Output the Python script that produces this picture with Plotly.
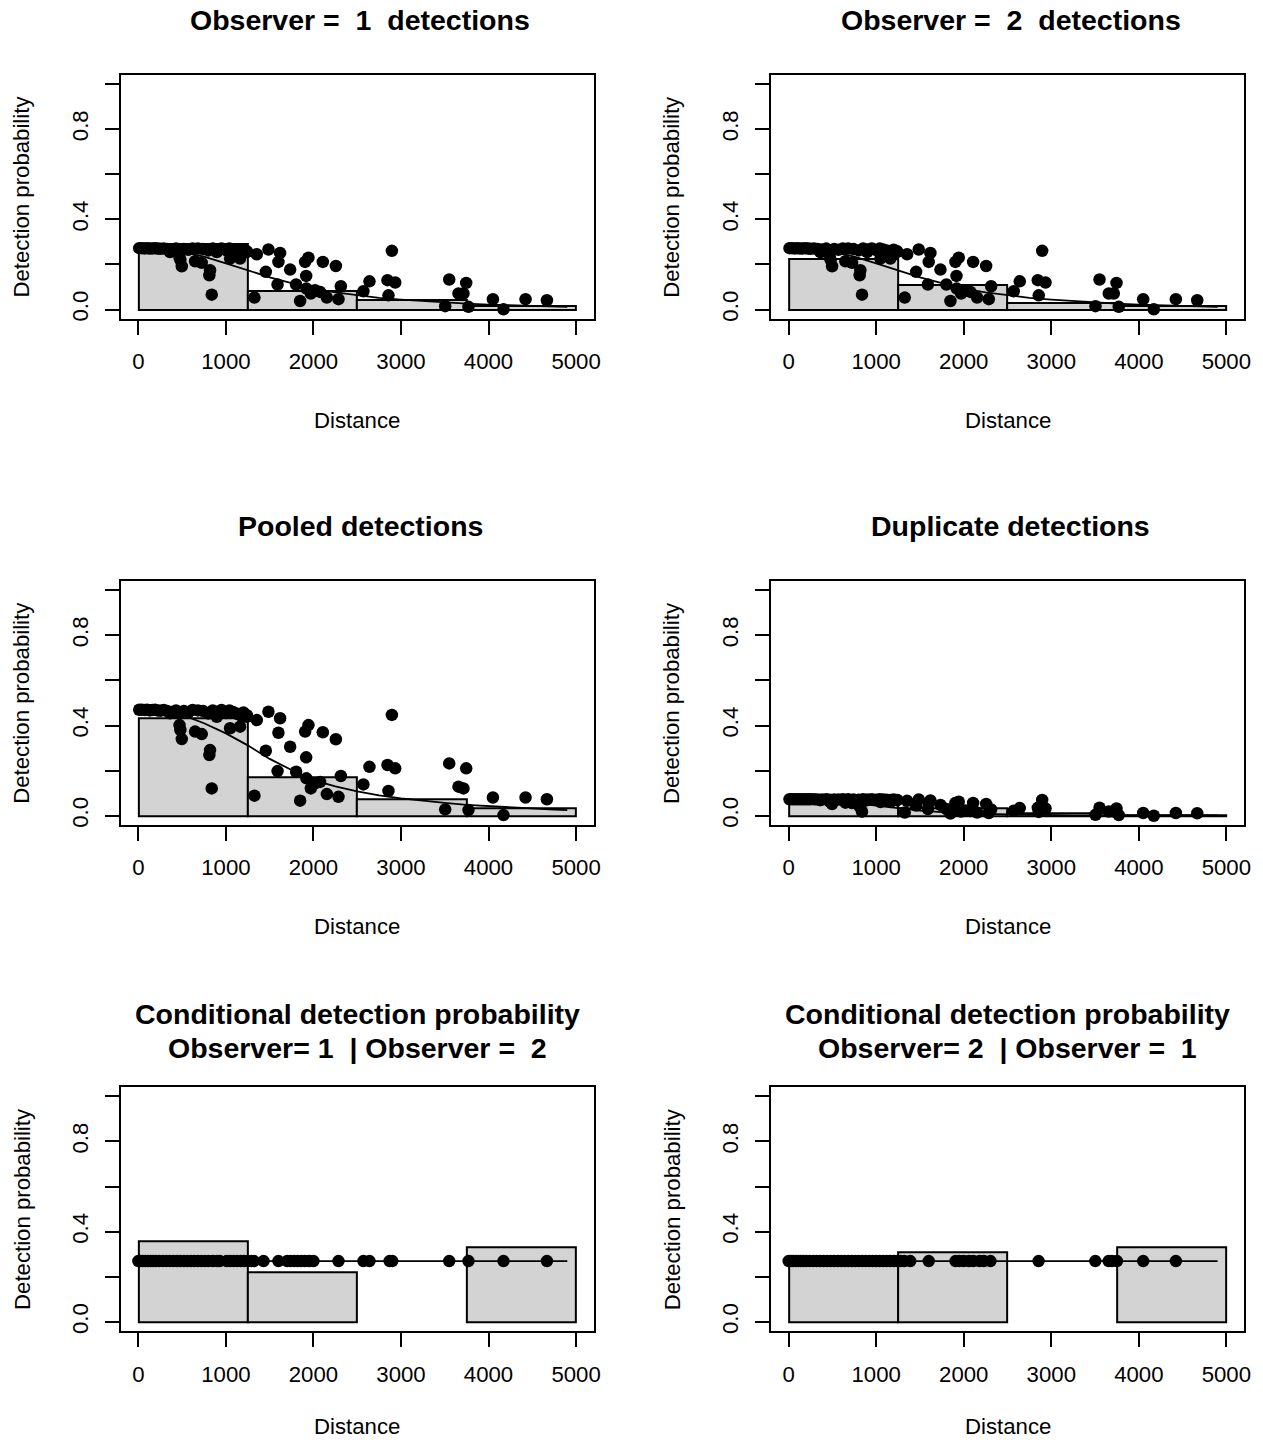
import plotly.graph_objects as go

W, H = 1263, 1445
SCALE_X, SCALE_Y = 0.994, 0.9975   # observed page-to-screenshot scale; positions pre-compensated
W_EFF, H_EFF = W * SCALE_X, H * SCALE_Y

# ---------------- data ----------------
bin_mids = [625, 1875, 3125, 4375]
bin_width = 1250

hist_obs1 = [0.293, 0.081, 0.041, 0.017]
hist_obs2 = [0.223, 0.111, 0.029, 0.018]
hist_pooled = [0.432, 0.169, 0.074, 0.033]
hist_dup = [0.055, 0.035, 0.012, 0.004]
hist_cond1 = [0.359, 0.222, None, 0.330]
hist_cond2 = [0.270, 0.308, None, 0.330]

line_dist = [0, 250, 500, 750, 1000, 1250, 1500, 1750, 2000, 2250, 2500, 2750,
             3000, 3250, 3500, 3750, 4000, 4250, 4500, 4750, 4900]
line_obs = [0.270, 0.267, 0.256, 0.234, 0.205, 0.175, 0.143, 0.117, 0.093, 0.076,
            0.063, 0.052, 0.044, 0.037, 0.031, 0.026, 0.022, 0.019, 0.016, 0.013, 0.012]
line_pooled = [0.467, 0.462, 0.447, 0.410, 0.365, 0.312, 0.252, 0.203, 0.158, 0.130,
               0.108, 0.090, 0.077, 0.066, 0.057, 0.048, 0.042, 0.036, 0.031, 0.027, 0.025]
line_dup = [0.073, 0.071, 0.066, 0.056, 0.044, 0.033, 0.023, 0.016, 0.011, 0.008,
            0.006, 0.004, 0.003, 0.002, 0.002, 0.001, 0.001, 0.001, 0.001, 0.001, 0.001]
line_cond_dist = [0, 4900]
line_cond = [0.27, 0.27]

obs_dist = [10, 40, 70, 100, 130, 160, 190, 220, 250, 290, 330, 380, 430, 470, 520,
            570, 620, 680, 740, 800, 850, 900, 950, 1000, 1040, 1080, 1120, 1160, 1200, 1240,
            362, 470, 480, 496, 648, 724, 819, 811, 838, 896, 1048, 1162, 1238, 1353, 1486,
            1619, 1600, 1456, 1326, 1590, 1734, 1802, 1848, 1905, 1943, 1917, 1920, 1970, 2019,
            2107, 2076, 2153, 2256, 2313, 2286, 2571, 2640, 2857, 2846, 2896, 2934, 3505, 3551,
            3657, 3714, 3745, 3771, 4050, 4171, 4423, 4667]
obs_p1 = [0.272, 0.272, 0.271, 0.272, 0.270, 0.271, 0.272, 0.270, 0.269, 0.271, 0.268,
          0.266, 0.270, 0.262, 0.268, 0.265, 0.271, 0.270, 0.268, 0.262, 0.270, 0.266,
          0.271, 0.263, 0.270, 0.266, 0.262, 0.258, 0.265, 0.258,
          0.255, 0.232, 0.219, 0.192, 0.214, 0.207, 0.174, 0.152, 0.066, 0.255, 0.226,
          0.226, 0.255, 0.245, 0.266, 0.251, 0.211, 0.167, 0.053, 0.111, 0.177, 0.111,
          0.038, 0.211, 0.230, 0.149, 0.093, 0.071, 0.086, 0.211, 0.078, 0.053, 0.193,
          0.103, 0.046, 0.081, 0.125, 0.063, 0.130, 0.260, 0.120, 0.015, 0.133, 0.071,
          0.071, 0.118, 0.012, 0.046, 0.001, 0.046, 0.041]
obs_pooled = [0.470, 0.470, 0.469, 0.470, 0.467, 0.469, 0.470, 0.467, 0.465, 0.469, 0.464,
              0.460, 0.467, 0.453, 0.464, 0.458, 0.469, 0.467, 0.464, 0.453, 0.467, 0.460,
              0.469, 0.455, 0.467, 0.460, 0.453, 0.446, 0.458, 0.446,
              0.454, 0.402, 0.380, 0.340, 0.373, 0.362, 0.291, 0.269, 0.121, 0.439, 0.388,
              0.395, 0.439, 0.424, 0.461, 0.432, 0.368, 0.288, 0.089, 0.198, 0.306, 0.195,
              0.067, 0.373, 0.402, 0.259, 0.166, 0.121, 0.144, 0.370, 0.150, 0.096, 0.339,
              0.176, 0.084, 0.139, 0.217, 0.110, 0.225, 0.447, 0.210, 0.028, 0.232, 0.129,
              0.121, 0.210, 0.025, 0.081, 0.003, 0.081, 0.073]
obs_dup = [0.073, 0.073, 0.073, 0.073, 0.073, 0.073, 0.073, 0.073, 0.073, 0.073, 0.072,
           0.072, 0.073, 0.071, 0.072, 0.072, 0.073, 0.073, 0.072, 0.071, 0.073, 0.072,
           0.073, 0.071, 0.073, 0.072, 0.071, 0.070, 0.072, 0.070,
           0.069, 0.063, 0.059, 0.052, 0.058, 0.056, 0.047, 0.041, 0.018, 0.069, 0.061,
           0.061, 0.069, 0.066, 0.072, 0.068, 0.057, 0.045, 0.014, 0.030, 0.048, 0.030,
           0.010, 0.057, 0.062, 0.040, 0.025, 0.019, 0.023, 0.057, 0.021, 0.014, 0.052,
           0.028, 0.012, 0.022, 0.034, 0.017, 0.035, 0.070, 0.032, 0.004, 0.036, 0.019,
           0.019, 0.032, 0.003, 0.012, 0.000, 0.012, 0.011]

cond1_dist = [0, 25, 50, 80, 110, 140, 170, 200, 240, 280, 320, 360, 400, 440, 480, 520,
              560, 600, 640, 680, 720, 760, 800, 850, 900, 930, 1010, 1050, 1090, 1130,
              1170, 1210, 1250, 1290, 1320, 1430, 1600, 1700, 1740, 1780, 1820, 1860, 1900,
              1950, 2000, 2286, 2571, 2640, 2870, 2900, 3551, 3771, 4171, 4667]
cond1_p = [0.27, 0.27, 0.27, 0.27, 0.27, 0.27, 0.27, 0.27, 0.27, 0.27, 0.27, 0.27, 0.27,
           0.27, 0.27, 0.27, 0.27, 0.27, 0.27, 0.27, 0.27, 0.27, 0.27, 0.27, 0.27, 0.27,
           0.27, 0.27, 0.27, 0.27, 0.27, 0.27, 0.27, 0.27, 0.27, 0.27, 0.27, 0.27, 0.27,
           0.27, 0.27, 0.27, 0.27, 0.27, 0.27, 0.27, 0.27, 0.27, 0.27, 0.27, 0.27, 0.27,
           0.27, 0.27]
cond2_dist = [0, 25, 50, 80, 110, 140, 170, 200, 240, 280, 320, 360, 400, 440, 480, 520,
              560, 600, 640, 680, 720, 760, 800, 840, 880, 920, 960, 1000, 1040, 1080,
              1120, 1160, 1200, 1240, 1280, 1320, 1389, 1600, 1906, 1950, 2000, 2060,
              2110, 2180, 2230, 2305, 2855, 3503, 3655, 3693, 3750, 4050, 4423]
cond2_p = [0.27, 0.27, 0.27, 0.27, 0.27, 0.27, 0.27, 0.27, 0.27, 0.27, 0.27, 0.27, 0.27,
           0.27, 0.27, 0.27, 0.27, 0.27, 0.27, 0.27, 0.27, 0.27, 0.27, 0.27, 0.27, 0.27,
           0.27, 0.27, 0.27, 0.27, 0.27, 0.27, 0.27, 0.27, 0.27, 0.27, 0.27, 0.27, 0.27,
           0.27, 0.27, 0.27, 0.27, 0.27, 0.27, 0.27, 0.27, 0.27, 0.27, 0.27, 0.27, 0.27,
           0.27]

x_ticks = [0, 1000, 2000, 3000, 4000, 5000]
y_ticks = [0.0, 0.2, 0.4, 0.6, 0.8, 1.0]
y_ticktext = ["0.0", "", "0.4", "", "0.8", ""]

NB = "\u00a0"
panels = [
    dict(col=0, row=0, title=["Observer =" + NB + " 1 " + NB + "detections"],
         hist=hist_obs1, lx=line_dist, ly=line_obs, px=obs_dist, py=obs_p1),
    dict(col=1, row=0, title=["Observer =" + NB + " 2 " + NB + "detections"],
         hist=hist_obs2, lx=line_dist, ly=line_obs, px=obs_dist, py=obs_p1),
    dict(col=0, row=1, title=["Pooled detections"],
         hist=hist_pooled, lx=line_dist, ly=line_pooled, px=obs_dist, py=obs_pooled),
    dict(col=1, row=1, title=["Duplicate detections"],
         hist=hist_dup, lx=line_dist, ly=line_dup, px=obs_dist, py=obs_dup),
    dict(col=0, row=2, title=["Conditional detection probability",
                              "Observer= 1 " + NB + "| Observer =" + NB + " 2"],
         hist=hist_cond1, lx=line_cond_dist, ly=line_cond, px=cond1_dist, py=cond1_p),
    dict(col=1, row=2, title=["Conditional detection probability",
                              "Observer= 2 " + NB + "| Observer =" + NB + " 1"],
         hist=hist_cond2, lx=line_cond_dist, ly=line_cond, px=cond2_dist, py=cond2_p),
]

FONT = "Liberation Sans, Arial, sans-serif"
fig = go.Figure()
annotations = []

SX = 0.0875
SY = 225.5


def fx(px):
    return px / W_EFF


def fy(py):
    return 1 - py / H_EFF


for i, p in enumerate(panels):
    n = "" if i == 0 else str(i + 1)
    xa, ya = "x" + n, "y" + n
    x0px = 138.3 + 650 * p["col"]
    y0px = 309.4 + 506 * p["row"]
    left, right = x0px - 200 * SX, x0px + 5200 * SX
    top, bottom = y0px - 1.04 * SY, y0px + 0.04 * SY

    fig.add_trace(go.Bar(x=bin_mids, y=p["hist"], width=bin_width, xaxis=xa, yaxis=ya,
                         marker=dict(color="#D3D3D3", line=dict(color="black", width=2)),
                         hoverinfo="skip"))
    fig.add_trace(go.Scatter(x=p["lx"], y=p["ly"], mode="lines", xaxis=xa, yaxis=ya,
                             line=dict(color="black", width=1.8)))
    fig.add_trace(go.Scatter(x=p["px"], y=p["py"], mode="markers", xaxis=xa, yaxis=ya,
                             marker=dict(color="black", size=12.5)))

    common = dict(showgrid=False, zeroline=False, showline=True, linecolor="black",
                  linewidth=2, mirror=True, ticks="outside", ticklen=14, tickwidth=1.8,
                  tickcolor="black", tickfont=dict(family=FONT, size=22.2, color="black"),
                  fixedrange=True)
    fig.layout["xaxis" + n] = dict(domain=[fx(left), fx(right)], range=[-200, 5200],
                                   anchor=ya, tickvals=x_ticks,
                                   ticktext=[str(v) for v in x_ticks],
                                   ticklabelstandoff=8, **common)
    fig.layout["yaxis" + n] = dict(domain=[fy(bottom), fy(top)], range=[-0.04, 1.04],
                                   anchor=xa, tickvals=y_ticks, ticktext=y_ticktext,
                                   tickangle=-90, ticklabelstandoff=8, **common)

    if len(p["title"]) == 1:
        cx = (left + right) / 2 + 3
        annotations.append(dict(text=p["title"][0], x=fx(cx), y=fy(20 + 506 * p["row"]),
                                xref="paper", yref="paper", showarrow=False,
                                xanchor="center", yanchor="middle",
                                font=dict(family=FONT, size=28.5, color="black",
                                          weight="bold")))
    else:
        cx = (left + right) / 2
        for k, t in enumerate(p["title"]):
            annotations.append(dict(text=t, x=fx(cx), y=fy(1014 + 34 * k),
                                    xref="paper", yref="paper", showarrow=False,
                                    xanchor="center", yanchor="middle",
                                    font=dict(family=FONT, size=28.5, color="black",
                                              weight="bold")))
    dist_y = min(y0px + 111, 1426)
    annotations.append(dict(text="Distance", x=fx((left + right) / 2), y=fy(dist_y),
                            xref="paper", yref="paper",
                            showarrow=False, xanchor="center", yanchor="middle",
                            font=dict(family=FONT, size=22.2, color="black")))
    annotations.append(dict(text="Detection probability", x=fx(left - 99),
                            y=fy((top + bottom) / 2), xref="paper", yref="paper",
                            showarrow=False, xanchor="center", yanchor="middle",
                            textangle=-90,
                            font=dict(family=FONT, size=22.2, color="black")))

fig.update_layout(width=W, height=H, margin=dict(l=0, r=0, t=0, b=0),
                  showlegend=False, plot_bgcolor="white", paper_bgcolor="white",
                  bargap=0, barmode="overlay", annotations=annotations)

fig.write_html("out.html")
